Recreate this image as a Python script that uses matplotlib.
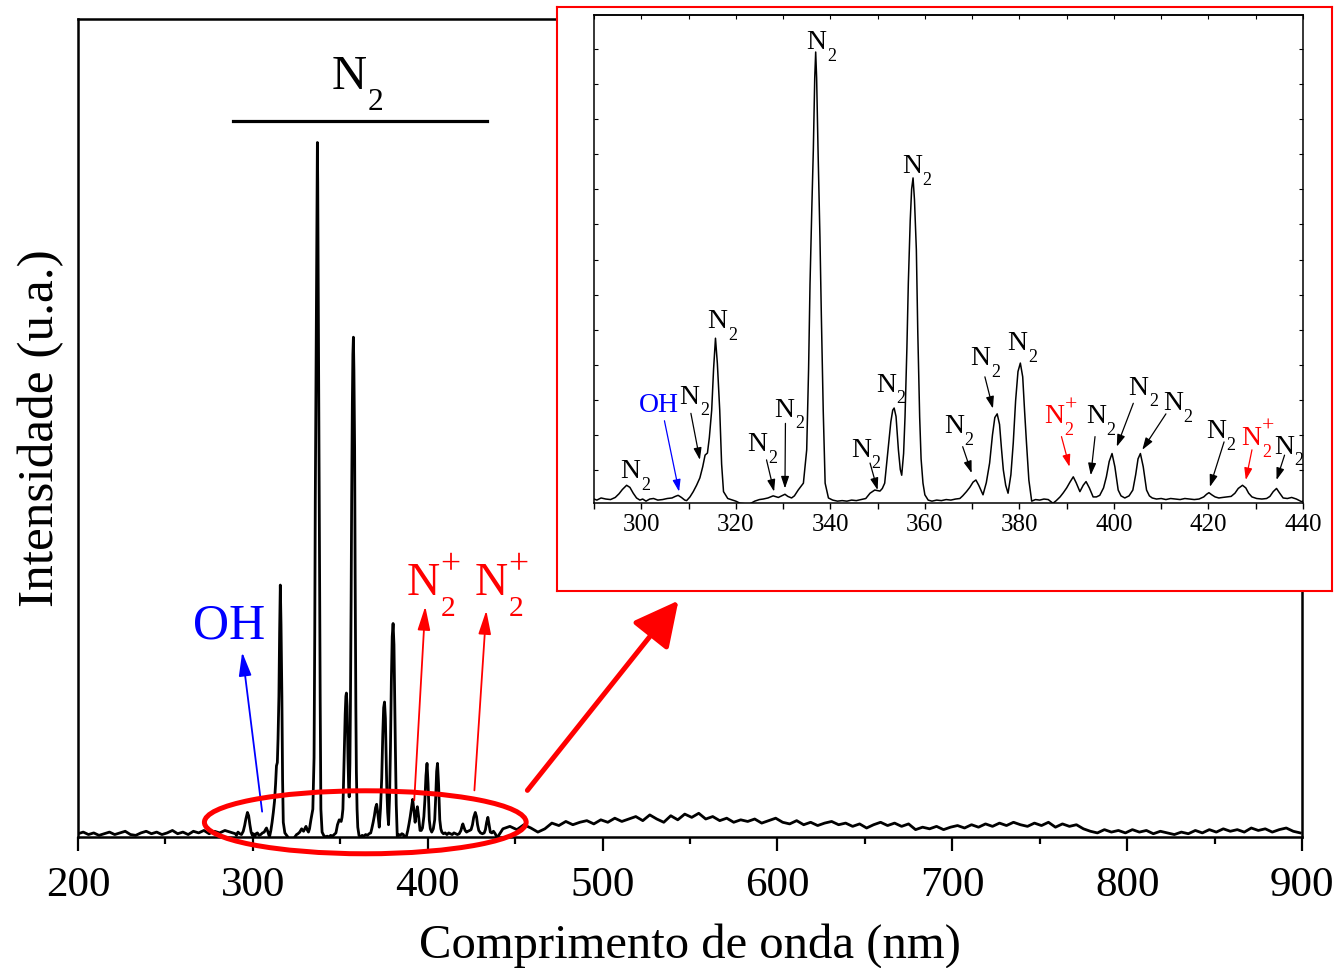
import numpy as np
import matplotlib
matplotlib.use('Agg')
import matplotlib.pyplot as plt
from matplotlib.patches import Ellipse, ArrowStyle
from matplotlib.ticker import MultipleLocator, FixedLocator

plt.rcParams['font.family'] = ['Liberation Serif', 'DejaVu Serif']

# ---- spectrum ----
# 200-287 nm, every 3 nm
wl_left = np.arange(200, 290, 3)
int_left = [0.004, 0.006, 0.003, 0.005, 0.002, 0.004, 0.006, 0.003, 0.005, 0.007,
            0.003, 0.002, 0.005, 0.007, 0.004, 0.006, 0.003, 0.005, 0.008, 0.004,
            0.006, 0.003, 0.007, 0.005, 0.008, 0.004, 0.007, 0.005, 0.008, 0.006]

# 290-440 nm
wl_mid = [290.0, 290.6, 291.5, 292.5, 293.5, 294.5, 295.3, 296.0, 296.9, 297.6,
          298.3, 299.0, 299.7, 300.3, 301.0, 301.8, 302.6, 303.5, 304.5, 305.5,
          306.5, 307.2, 307.8, 308.5, 309.2, 309.6, 310.3, 311.0, 311.7, 312.4,
          313.0, 313.5, 314.0, 314.4, 314.9, 315.3, 315.7, 316.1, 316.6, 317.0,
          317.4, 318.3, 319.0, 320.0, 320.9, 322.0, 323.0, 324.0, 325.0, 325.8,
          326.8, 327.9, 329.0, 329.7, 330.4, 331.0, 331.8, 332.4, 333.2, 334.3,
          335.0, 335.4, 335.7, 336.1, 336.4, 336.7, 336.9, 337.1, 337.4, 337.8,
          338.1, 338.5, 338.9, 339.6, 340.5, 341.5, 342.5, 343.5, 344.5, 345.5,
          346.5, 347.5, 348.4, 349.4, 350.5, 351.0, 351.5, 352.2, 352.8, 353.2,
          353.5, 353.9, 354.4, 354.8, 355.1, 355.5, 355.8, 356.2, 356.5, 356.9,
          357.2, 357.5, 357.8, 358.2, 358.5, 358.9, 359.2, 359.6, 360.0, 360.7,
          361.5, 362.5, 363.5, 364.5, 365.5, 366.5, 367.4, 368.0, 368.8, 369.5,
          370.2, 370.8, 371.4, 372.3, 373.0, 373.7, 374.3, 374.8, 375.3, 375.8,
          376.2, 376.6, 377.1, 377.6, 378.2, 378.7, 379.2, 379.7, 380.2, 380.7,
          381.1, 381.5, 382.0, 382.6, 383.4, 384.3, 385.2, 386.1, 387.1, 387.8,
          388.6, 389.3, 390.0, 390.7, 391.4, 392.0, 392.8, 393.5, 394.1, 394.8,
          395.6, 396.3, 397.0, 397.8, 398.4, 399.0, 399.6, 400.2, 400.9, 401.5,
          402.3, 403.2, 404.0, 404.6, 405.1, 405.6, 406.2, 406.9, 407.5, 408.1,
          409.0, 410.0, 411.0, 412.0, 413.0, 414.0, 415.0, 416.0, 417.0, 418.0,
          419.0, 419.6, 420.1, 420.7, 421.4, 422.2, 423.0, 424.0, 424.8, 425.6,
          426.3, 427.2, 427.9, 428.5, 429.2, 430.2, 431.3, 432.3, 433.0, 433.7,
          434.4, 435.0, 435.8, 436.7, 437.6, 438.6, 439.7]
int_mid = [0.004, 0.002, 0.006, 0.004, 0.003, 0.007, 0.014, 0.022, 0.030, 0.026,
           0.015, 0.006, 0.002, 0.004, 0.000, 0.004, 0.005, 0.002, 0.003, 0.005,
           0.006, 0.009, 0.011, 0.007, 0.002, 0.001, 0.008, 0.018, 0.030, 0.044,
           0.065, 0.087, 0.091, 0.120, 0.172, 0.250, 0.308, 0.260, 0.172, 0.070,
           0.018, 0.005, 0.003, 0.000, -0.004, -0.005, -0.005, 0.000, 0.003, 0.004,
           0.006, 0.010, 0.007, 0.010, 0.013, 0.009, 0.006, 0.010, 0.021, 0.034,
           0.097, 0.250, 0.410, 0.560, 0.663, 0.800, 0.849, 0.800, 0.663, 0.500,
           0.350, 0.170, 0.034, 0.006, 0.002, 0.000, 0.001, 0.000, 0.002, 0.001,
           0.003, 0.005, 0.015, 0.021, 0.019, 0.024, 0.034, 0.097, 0.150, 0.172,
           0.176, 0.160, 0.097, 0.060, 0.049, 0.090, 0.159, 0.290, 0.412, 0.530,
           0.590, 0.611, 0.570, 0.475, 0.320, 0.159, 0.080, 0.034, 0.012, 0.002,
           0.000, 0.002, 0.001, 0.003, 0.002, 0.004, 0.005, 0.010, 0.018, 0.026,
           0.036, 0.040, 0.030, 0.012, 0.035, 0.072, 0.125, 0.158, 0.165, 0.145,
           0.100, 0.059, 0.030, 0.015, 0.050, 0.110, 0.190, 0.245, 0.261, 0.235,
           0.170, 0.110, 0.040, 0.000, 0.003, 0.002, 0.004, 0.003, -0.004, 0.001,
           0.008, 0.016, 0.025, 0.036, 0.046, 0.035, 0.018, 0.030, 0.037, 0.025,
           0.008, 0.008, 0.011, 0.025, 0.046, 0.075, 0.090, 0.065, 0.021, 0.010,
           0.006, 0.010, 0.021, 0.050, 0.080, 0.090, 0.065, 0.021, 0.010, 0.006,
           0.004, 0.005, 0.003, 0.005, 0.004, 0.003, 0.005, 0.004, 0.003, 0.004,
           0.008, 0.013, 0.016, 0.012, 0.008, 0.006, 0.007, 0.008, 0.009, 0.015,
           0.024, 0.030, 0.025, 0.015, 0.008, 0.005, 0.004, 0.005, 0.009, 0.018,
           0.024, 0.016, 0.006, 0.005, 0.007, 0.004, -0.001]

# 443-899 nm, every 4 nm
wl_right = np.arange(443, 900, 4)
int_right = [0.010, 0.013, 0.009, 0.015, 0.011, 0.006, 0.010, 0.017, 0.014, 0.019,
             0.015, 0.018, 0.020, 0.016, 0.021, 0.018, 0.023, 0.019, 0.022, 0.025,
             0.020, 0.027, 0.022, 0.018, 0.026, 0.021, 0.028, 0.024, 0.029, 0.022,
             0.025, 0.020, 0.023, 0.018, 0.021, 0.019, 0.022, 0.017, 0.020, 0.023,
             0.018, 0.016, 0.020, 0.015, 0.018, 0.014, 0.017, 0.019, 0.015, 0.017,
             0.013, 0.016, 0.011, 0.015, 0.018, 0.014, 0.017, 0.013, 0.016, 0.009,
             0.012, 0.010, 0.013, 0.009, 0.012, 0.014, 0.011, 0.015, 0.012, 0.016,
             0.013, 0.017, 0.014, 0.018, 0.015, 0.013, 0.017, 0.014, 0.018, 0.012,
             0.016, 0.013, 0.015, 0.010, 0.007, 0.005, 0.009, 0.006, 0.008, 0.005,
             0.009, 0.006, 0.008, 0.004, 0.007, 0.005, 0.003, 0.006, 0.004, 0.008,
             0.005, 0.009, 0.006, 0.010, 0.007, 0.009, 0.006, 0.011, 0.008, 0.010,
             0.006, 0.009, 0.011, 0.007, 0.005]

wavelength = np.concatenate([wl_left, wl_mid, wl_right])
intensity = np.concatenate([int_left, int_mid, int_right])

# inset labels: x (centre), y (baseline), ion?, colour
ins_labels = [
    (298.8, 0.043, False, 'black'), (311.2, 0.184, False, 'black'),
    (317.2, 0.327, False, 'black'), (325.6, 0.094, False, 'black'),
    (331.3, 0.160, False, 'black'), (338.1, 0.854, False, 'black'),
    (358.3, 0.620, False, 'black'), (347.5, 0.084, False, 'black'),
    (352.8, 0.207, False, 'black'), (367.2, 0.128, False, 'black'),
    (372.8, 0.257, False, 'black'), (380.6, 0.286, False, 'black'),
    (388.4, 0.147, True, 'red'), (397.3, 0.147, False, 'black'),
    (406.2, 0.201, False, 'black'), (413.5, 0.172, False, 'black'),
    (422.6, 0.119, False, 'black'), (430.1, 0.106, True, 'red'),
    (437.0, 0.090, False, 'black'),
]
# inset arrows: tail, head, colour
ins_arrows = [
    ((304.9, 0.152), (308.0, 0.018), 'blue'),
    ((310.5, 0.166), (312.4, 0.078), 'black'),
    ((326.5, 0.078), (328.1, 0.018), 'black'),
    ((330.5, 0.147), (330.4, 0.024), 'black'),
    ((348.4, 0.072), (350.0, 0.021), 'black'),
    ((368.0, 0.103), (369.9, 0.053), 'black'),
    ((372.7, 0.235), (374.4, 0.175), 'black'),
    ((388.9, 0.122), (390.6, 0.065), 'red'),
    ((396.0, 0.122), (395.1, 0.049), 'black'),
    ((404.1, 0.185), (400.6, 0.103), 'black'),
    ((411.0, 0.165), (406.0, 0.097), 'black'),
    ((423.3, 0.112), (420.3, 0.027), 'black'),
    ((429.2, 0.097), (427.9, 0.040), 'red'),
    ((436.1, 0.087), (434.4, 0.040), 'black'),
]


def n2_label(ax, x, y, fs, color='black', ion=False, drop=0.45):
    """N with a low subscript 2 (and a raised + for the ion), centred on x."""
    kw = dict(xycoords='data', textcoords='offset points', va='baseline',
              ha='left', color=color, annotation_clip=False)
    ax.annotate('N', (x, y), xytext=(-0.54 * fs, 0), fontsize=fs, **kw)
    ax.annotate('2', (x, y), xytext=(0.2 * fs, -drop * fs), fontsize=0.65 * fs, **kw)
    if ion:
        ax.annotate('+', (x, y), xytext=(0.19 * fs, 0.47 * fs), fontsize=0.78 * fs, **kw)


W, H = 1337, 968
fig = plt.figure(figsize=(W / 100, H / 100), dpi=100)

# ---- main axes ----
ax = fig.add_axes([78 / W, 1 - 837 / H, 1224 / W, 818 / H])
ax.plot(wavelength, intensity, color='black', lw=2.0)
ax.set_xlim(200, 900)
ax.set_ylim(0, 1)
ax.set_yticks([])
ax.xaxis.set_major_locator(MultipleLocator(100))
ax.xaxis.set_minor_locator(MultipleLocator(50))
ax.tick_params(axis='x', which='major', direction='out', length=10, width=1.6,
               labelsize=31, pad=11)
ax.tick_params(axis='x', which='minor', direction='out', length=5, width=1.6)
for s in ax.spines.values():
    s.set_linewidth(1.8)
ax.set_xlabel('Comprimento de onda (nm)', fontsize=35, labelpad=13)
ax.set_ylabel('Intensidade (u.a.)', fontsize=37, labelpad=10)

ax.plot([288.7, 434.1], [0.875, 0.875], color='black', lw=2.3)
n2_label(ax, 359.8, 0.915, 35)
ax.text(286.4, 0.243, 'OH', fontsize=36, color='blue', ha='center', va='baseline')
n2_label(ax, 402.3, 0.2955, 33, color='red', ion=True)
n2_label(ax, 441.0, 0.2955, 33, color='red', ion=True)

small_head = ArrowStyle('-|>', head_length=0.6, head_width=0.16)
for tail, head, col in [((305.3, 0.031), (293.9, 0.226), 'blue'),
                        ((392.3, 0.045), (398.6, 0.282), 'red'),
                        ((426.7, 0.057), (433.5, 0.277), 'red')]:
    ax.annotate('', xy=head, xytext=tail,
                arrowprops=dict(arrowstyle=small_head, color=col, lw=1.3,
                                mutation_scale=24, shrinkA=0, shrinkB=0))

ax.add_patch(Ellipse((364.3, 0.018), 184, 0.077, fill=False, edgecolor='red',
                     lw=3.6, clip_on=False, zorder=5))
ax.annotate('', xy=(543.4, 0.289), xytext=(457, 0.057),
            arrowprops=dict(arrowstyle=ArrowStyle('-|>', head_length=0.55, head_width=0.28),
                            color='red', lw=3.6, mutation_scale=50,
                            shrinkA=0, shrinkB=0))

# ---- red frame around the inset ----
fr = fig.add_axes([557 / W, 1 - 591 / H, 775 / W, 584 / H], zorder=3)
fr.set_facecolor('white')
fr.set_xticks([])
fr.set_yticks([])
for s in fr.spines.values():
    s.set_color('red')
    s.set_linewidth(1.5)

# ---- inset ----
ins = fig.add_axes([594 / W, 1 - 503 / H, 709 / W, 488 / H], zorder=4)
ins.plot(wavelength, intensity, color='black', lw=1.1)
ins.set_xlim(290, 440)
ins.set_ylim(-0.0035, 0.919)
ins.xaxis.set_major_locator(MultipleLocator(20))
ins.xaxis.set_minor_locator(MultipleLocator(10))
ins.tick_params(axis='x', which='both', direction='out', length=4, width=1.0,
                labelsize=18, pad=4)
ins.yaxis.set_major_locator(FixedLocator(np.arange(0.059, 0.92, 0.0663)))
ins.tick_params(axis='y', direction='in', length=3, width=0.8, left=True,
                right=True, labelleft=False)
for s in ins.spines.values():
    s.set_linewidth(1.1)
top = ins.secondary_xaxis('top')
top.xaxis.set_major_locator(MultipleLocator(10))
top.tick_params(direction='in', length=3, width=0.8, labeltop=False)
top.spines['top'].set_linewidth(1.1)

ins.text(303.8, 0.169, 'OH', fontsize=20, color='blue', ha='center', va='baseline')
for x, y, ion, col in ins_labels:
    n2_label(ins, x, y, 20, color=col, ion=ion, drop=0.42)
tiny_head = ArrowStyle('-|>', head_length=0.6, head_width=0.2)
for tail, head, col in ins_arrows:
    ins.annotate('', xy=head, xytext=tail,
                 arrowprops=dict(arrowstyle=tiny_head, color=col, lw=0.9,
                                 mutation_scale=12, shrinkA=0, shrinkB=0))

fig.savefig('out.png', dpi=100)
